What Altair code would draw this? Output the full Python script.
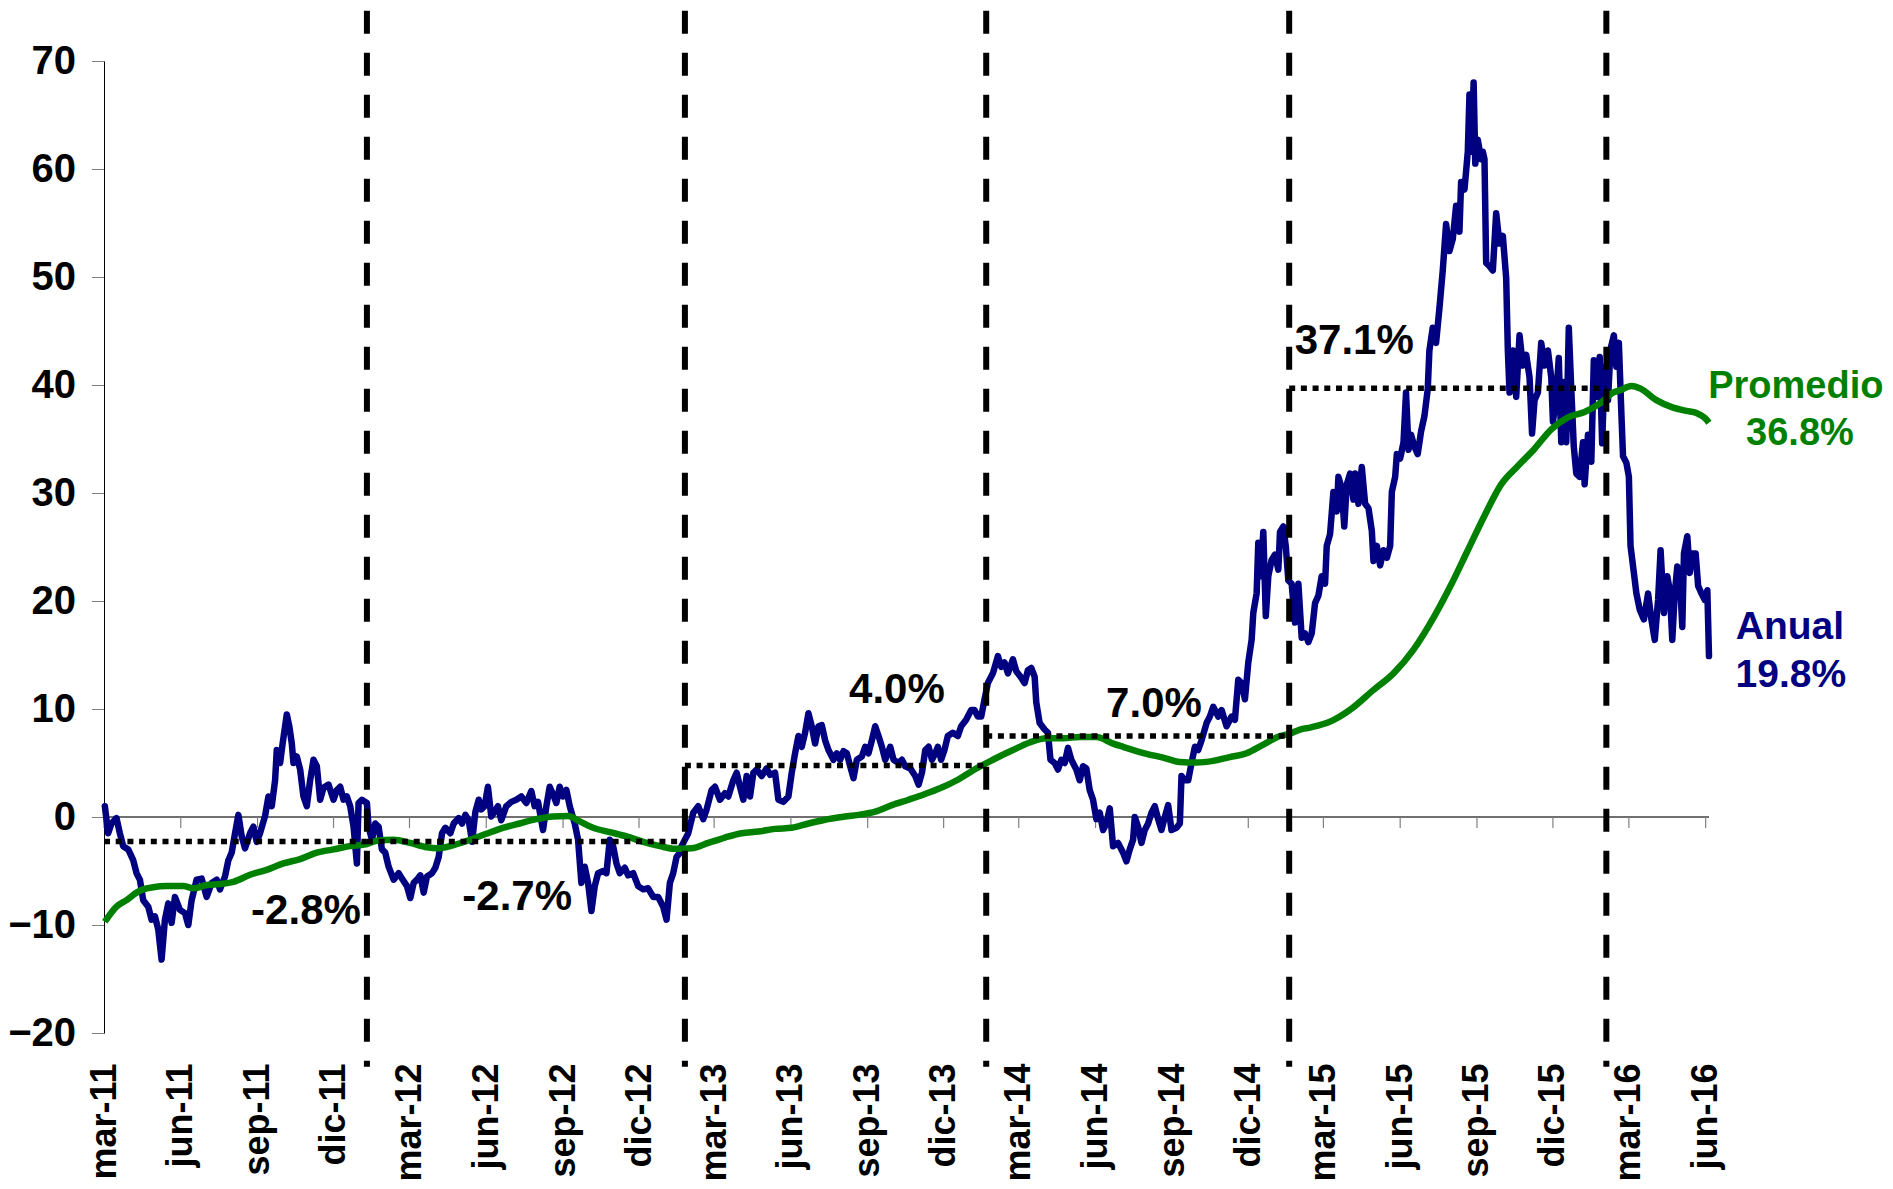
import json
import altair as alt
import pandas as pd

# ---------------- data ----------------
inicio = "2011-03-01"
fin = "2016-06-05"

# Anual (days after 2011-03-01, value)
anual_dias = [
    1, 5, 9, 15, 19, 23, 29, 35, 39, 43, 47, 53, 57, 61, 65, 69, 73, 77, 81, 85, 91, 97, 101, 105, 111, 117, 123, 129,
    135, 139, 145, 149, 153, 157, 161, 165, 169, 175, 179, 183, 187, 193, 197, 201, 205, 207, 211, 214, 219, 222, 225,
    227, 231, 235, 239, 243, 247, 251, 255, 259, 263, 269, 275, 279, 283, 287, 291, 295, 299, 303, 305, 309,
    315, 317, 321, 325, 329, 333, 337, 341, 347, 353, 357, 363, 367, 371, 375, 379, 383, 387, 393, 397, 401, 405, 409,
    415, 419, 425, 429, 433, 437, 441, 445, 449, 452, 456, 460, 464, 468, 472, 476, 482, 488, 494, 500, 506, 512, 516,
    520, 526, 530, 534, 538, 542, 546, 550, 554, 558, 564, 568, 572, 576, 580, 584, 588, 592, 598, 602, 606, 610, 614,
    618, 624, 628, 634, 640, 646, 652, 658, 664, 670, 674, 678, 682, 686, 690,
    692, 700, 706, 712, 718, 722, 728, 732, 738, 744, 748, 754, 758, 762, 766, 770, 774, 778, 782, 788, 794, 798, 804,
    808, 814, 820, 824, 828, 832, 836, 840, 844, 848, 852, 856, 860, 864, 868, 874, 878, 882, 886, 890, 894, 898, 902,
    908, 912, 916, 920, 924, 928, 932, 936, 942, 946, 952, 956, 960, 966, 972, 976, 980, 984, 988, 992, 996, 999, 1003,
    1007, 1011, 1017, 1023, 1027, 1033, 1039, 1043, 1047,
    1051, 1055, 1059, 1065, 1071, 1075, 1079, 1083, 1089, 1093, 1099, 1103, 1107, 1111, 1115, 1117, 1121, 1127, 1131,
    1134, 1139, 1143, 1147, 1151, 1155, 1159, 1165, 1169, 1173, 1177, 1181, 1185, 1189, 1193, 1197, 1201, 1205, 1209,
    1215, 1221, 1225, 1229, 1233, 1235, 1239, 1243, 1247, 1251, 1255, 1259, 1263, 1267, 1271, 1275, 1279, 1285, 1289,
    1291, 1295, 1299, 1303, 1307, 1311, 1315, 1321, 1325, 1329, 1335, 1339, 1345, 1351, 1355, 1359, 1363, 1367, 1371,
    1375, 1377, 1381, 1383, 1386, 1389, 1392, 1395, 1399, 1403, 1407, 1409, 1413, 1416,
    1419, 1423, 1427, 1431, 1435, 1439, 1443, 1447, 1451, 1455, 1459, 1463, 1465, 1469, 1473, 1477, 1479, 1483, 1486,
    1489, 1493, 1497, 1499, 1503, 1507, 1511, 1515, 1519, 1521, 1525, 1529, 1533, 1537, 1541, 1543, 1547, 1549, 1553,
    1557, 1560, 1563, 1566, 1570, 1574, 1578, 1582, 1586, 1588, 1592, 1596, 1600, 1604, 1608, 1612, 1616, 1620, 1624,
    1626, 1630, 1632, 1634, 1636, 1638, 1641, 1643, 1646, 1650, 1652, 1654, 1656, 1660, 1664, 1668, 1672, 1676, 1680,
    1682, 1684, 1688, 1692, 1696, 1700, 1704, 1708, 1711, 1714, 1718, 1722, 1726, 1730, 1734, 1736, 1740, 1743, 1746,
    1750, 1752, 1755, 1758, 1761, 1764, 1768, 1772, 1774, 1778, 1782,
    1785, 1788, 1792, 1795, 1798, 1802, 1805, 1809, 1812, 1815, 1818, 1820, 1824, 1827, 1829, 1833, 1836, 1840, 1845,
    1850, 1854, 1858, 1862, 1865, 1869, 1873, 1876, 1879, 1882, 1885, 1888, 1891, 1893, 1897, 1900, 1903, 1907, 1910,
    1914, 1918, 1921, 1923,
]
anual_valores = [
    1.0, -1.5, -0.6, -0.1, -1.5, -2.7, -3.0, -4.0, -5.2, -5.8, -7.7, -8.3, -9.5, -9.2, -10.4, -13.2, -9.5, -8.0, -9.8,
    -7.4, -8.6, -8.9, -10.0, -7.7, -5.8, -5.7, -7.4, -6.1, -5.8, -6.7, -5.5, -4.0, -3.3, -1.5, 0.2, -1.8, -2.9, -1.5,
    -0.9, -2.3, -1.5, 0.1, 1.9, 1.0, 3.4, 6.2, 5.0, 6.8, 9.5, 8.4, 6.8, 5.0, 5.6, 4.4, 1.9, 1.0, 3.4, 5.3, 4.7, 1.6,
    2.7, 3.0, 1.6, 2.5, 2.8, 1.6, 1.9, 1.0, -0.9, -4.3, 1.3, 1.6,
    1.3, -0.9, -2.1, -0.6, -0.9, -3.0, -3.3, -4.6, -5.8, -5.2, -5.7, -6.4, -7.5, -6.1, -5.8, -5.4, -7.0, -5.5, -5.2,
    -4.7, -3.7, -1.5, -1.0, -1.5, -0.6, -0.1, -0.6, 0.2, -0.3, -2.3, 0.5, 1.6, 0.7, 1.0, 2.8, 0.05, 0.5, 1.0, -0.3,
    1.0, 1.4, 1.6, 1.9, 1.3, 2.4, 1.0, 1.4, -1.2, 1.0, 2.8, 2.1, 1.3, 2.8, 1.9, 2.5, 1.0, -0.6, -2.1, -6.1, -4.6, -6.1,
    -8.7, -6.4, -5.2, -5.0, -5.2, -2.1, -2.7, -4.3, -5.2, -4.7, -5.4, -5.2, -6.4, -6.7, -6.6, -7.4, -7.4, -8.3, -9.5,
    -6.1, -5.2, -3.7, -3.3,
    -2.7, -1.5, 0.4, 1.0, -0.2, 0.7, 2.5, 2.8, 1.6, 2.2, 1.9, 3.4, 4.1, 2.8, 1.6, 3.8, 1.9, 4.1, 4.4, 3.8, 4.5, 3.9,
    4.1, 1.6, 1.4, 1.9, 4.1, 5.9, 7.5, 6.5, 7.8, 9.6, 8.4, 6.8, 8.4, 8.5, 7.1, 6.2, 5.3, 5.9, 5.3, 6.1, 5.9, 4.7, 3.6,
    5.3, 5.6, 6.5, 5.9, 7.1, 8.4, 7.5, 6.5, 5.3, 6.5, 5.3, 5.0, 5.3, 4.7, 4.5, 3.8, 3.0, 4.1, 6.2, 6.5, 5.3, 5.9, 6.5,
    5.3, 6.2, 7.5, 7.8, 7.5, 8.4, 9.0, 9.9, 9.9, 9.3,
    9.3, 10.9, 12.4, 13.3, 14.9, 13.9, 14.3, 13.3, 14.6, 13.5, 12.9, 12.4, 13.6, 13.8, 13.0, 10.6, 8.7, 8.1, 7.8, 5.3,
    5.0, 4.4, 5.3, 5.0, 6.4, 5.3, 4.4, 3.4, 4.7, 4.5, 2.5, 1.6, -0.2, 0.4, -1.2, -0.6, 0.8, -2.7, -2.4, -3.3, -4.1,
    -3.0, -2.1, 0.0, -0.9, -2.4, -1.2, -0.6, 0.4, 1.0, -0.2, -1.2, 0.0, 1.1, -1.2, -1.0, -0.6, 3.8, 3.4, 3.4, 5.0, 6.5,
    6.2, 7.1, 8.7, 9.3, 10.2, 9.3, 9.9, 8.4, 9.3, 9.0, 12.7, 12.4, 10.9, 14.3, 16.4, 18.9, 20.7, 25.4, 22.3, 26.4, 18.6,
    22.3, 23.8, 24.3, 22.9, 26.4, 26.9, 25.0,
    21.9, 21.6, 18.0, 21.6, 16.6, 17.0, 16.2, 17.0, 19.8, 20.5, 22.3, 21.6, 25.1, 26.2, 30.1, 28.3, 31.5, 30.4, 26.9,
    30.8, 31.8, 29.4, 31.8, 29.0, 32.4, 29.0, 28.6, 26.5, 23.7, 25.1, 23.3, 24.7, 24.0, 25.1, 30.1, 31.5, 33.6, 33.2,
    34.7, 39.3, 34.0, 35.4, 34.3, 33.6, 35.7, 37.1, 39.6, 43.2, 45.3, 43.9, 47.1, 50.6, 54.9, 52.4, 53.5, 56.6, 54.2,
    58.8, 58.1, 59.8, 61.6, 66.9, 61.6, 68.0, 60.5, 62.7, 60.9, 61.6, 60.9, 51.3, 51.0, 50.6, 55.9, 53.1, 53.8, 49.9,
    43.2, 39.3, 43.2, 38.9, 44.6, 41.8, 42.8, 40.7, 35.5, 38.6, 39.3, 43.9, 41.8, 43.2, 40.7, 36.6, 38.9, 42.5, 34.7,
    40.3, 34.7, 45.3, 39.6, 34.3, 31.8, 31.5, 34.7, 30.8, 35.4, 32.9,
    42.3, 38.9, 42.6, 34.6, 41.7, 38.6, 43.3, 44.6, 41.7, 43.9, 37.4, 33.4, 32.8, 31.5, 25.1, 22.6, 20.7, 19.2, 18.3,
    20.7, 18.3, 16.4, 20.1, 24.7, 18.9, 22.3, 21.0, 16.4, 20.7, 23.2, 22.3, 17.6, 24.4, 26.0, 22.6, 24.4, 24.4, 21.4,
    20.7, 20.1, 21.0, 14.9,
]

# Promedio (days after 2011-03-01, value)
prom_dias = [
    1, 15, 27, 39, 47, 59, 75, 95, 107, 123, 139, 155, 175, 195, 215, 235, 255, 275, 295, 315, 327, 347, 367, 387, 399,
    419, 439, 458, 478, 498, 518, 538, 556, 570, 586, 606, 626, 646, 666, 684, 704, 724, 744, 764, 784, 804, 824, 844,
    864, 884, 904, 924, 944, 964, 983, 1003, 1023, 1043, 1065, 1089, 1109, 1129, 1149, 1169, 1189, 1209, 1221, 1249,
    1269, 1289, 1309, 1329, 1349, 1369, 1389, 1409, 1420, 1433, 1446, 1471, 1496, 1520, 1545, 1569, 1594, 1614, 1634,
    1654, 1674, 1694, 1714, 1734, 1754, 1774, 1794, 1808, 1816, 1830, 1840, 1860, 1880, 1896, 1908, 1920, 1923,
]
prom_valores = [
    -9.7, -8.3, -7.7, -7.0, -6.7, -6.5, -6.4, -6.4, -6.6, -6.3, -6.2, -6.0, -5.35, -4.9, -4.3, -3.9, -3.3, -3.0, -2.7,
    -2.5, -2.2, -2.1, -2.4, -2.8, -2.9, -2.6, -2.1, -1.55, -1.0, -0.6, -0.2, 0.05, 0.1, -0.4, -1.0, -1.4, -1.8, -2.3,
    -2.7, -2.95, -2.9, -2.4, -1.9, -1.5, -1.35, -1.1, -1.0, -0.6, -0.25, 0.0, 0.2, 0.5, 1.1, 1.6, 2.1, 2.7, 3.45, 4.4,
    5.3, 6.2, 6.9, 7.3, 7.3, 7.4, 7.4, 6.8, 6.5, 5.85, 5.5, 5.1, 5.05, 5.2, 5.55, 5.9, 6.7, 7.5, 7.7, 8.1, 8.3, 8.9,
    10.1, 11.7, 13.3, 15.5, 18.6, 21.5, 24.7, 27.9, 30.8, 32.5, 34.1, 35.9, 37.0, 37.5, 38.4, 39.3, 39.5, 39.9, 39.7,
    38.6, 37.9, 37.6, 37.4, 36.8, 36.5,
]

# x-axis ticks
tick_fechas = [
    "2011-03-01", "2011-06-01", "2011-09-01", "2011-12-01", "2012-03-01", "2012-06-01", "2012-09-01", "2012-12-01",
    "2013-03-01", "2013-06-01", "2013-09-01", "2013-12-01", "2014-03-01", "2014-06-01", "2014-09-01", "2014-12-01",
    "2015-03-01", "2015-06-01", "2015-09-01", "2015-12-01", "2016-03-01", "2016-06-01",
]
tick_etiquetas = [
    "mar-11", "jun-11", "sep-11", "dic-11", "mar-12", "jun-12", "sep-12", "dic-12",
    "mar-13", "jun-13", "sep-13", "dic-13", "mar-14", "jun-14", "sep-14", "dic-14",
    "mar-15", "jun-15", "sep-15", "dic-15", "mar-16", "jun-16",
]
y_ticks = [-20, -10, 0, 10, 20, 30, 40, 50, 60, 70]

# period breaks (vertical dashed lines) and period averages (dotted)
cortes_dias = [315, 696, 1057, 1420, 1800]
tramo_ini = [0, 315, 696, 1057, 1420]
tramo_fin = [315, 696, 1057, 1420, 1800]
tramo_nivel = [-2.27, -2.27, 4.78, 7.5, 39.7]
corte_arriba, corte_abajo = 74.66, -23.13

# annotations
notas_texto = ["-2.8%", "-2.7%", "4.0%", "7.0%", "37.1%"]
notas_dia = [242, 495, 950, 1258, 1498]
notas_valor = [-9.95, -8.6, 10.6, 9.25, 42.9]
prom_texto = ["Promedio", "36.8%"]
prom_txt_dia = [2027, 2032]
prom_txt_valor = [38.8, 34.45]
anual_texto = ["Anual", "19.8%"]
anual_txt_dia = [2020, 2021]
anual_txt_valor = [16.5, 12.05]

# ---------------- build tables ----------------
DAY = 86400000
t0 = int(pd.Timestamp(inicio).value // 10**6)
t_end = int(pd.Timestamp(fin).value // 10**6)


def ms(d):
    return t0 + int(round(d * DAY))


df_anual = pd.DataFrame({"t": [ms(d) for d in anual_dias], "v": anual_valores})
df_prom = pd.DataFrame({"t": [ms(d) for d in prom_dias], "v": prom_valores})
tick_ms = [int(pd.Timestamp(f).value // 10**6) for f in tick_fechas]
df_ticks = pd.DataFrame({"t": tick_ms, "v": [0] * len(tick_ms), "v2": [-1.02] * len(tick_ms)})
df_zero = pd.DataFrame({"t": [t0], "t2": [t_end], "v": [0]})
df_cortes = pd.DataFrame({"t": [ms(d) for d in cortes_dias],
                          "v": [corte_arriba] * len(cortes_dias), "v2": [corte_abajo] * len(cortes_dias)})
df_tramos = pd.DataFrame({"t": [ms(d) for d in tramo_ini], "t2": [ms(d) for d in tramo_fin], "v": tramo_nivel})
df_notas = pd.DataFrame({"t": [ms(d) for d in notas_dia], "v": notas_valor, "txt": notas_texto})
df_prom_txt = pd.DataFrame({"t": [ms(d) for d in prom_txt_dia], "v": prom_txt_valor, "txt": prom_texto})
df_anual_txt = pd.DataFrame({"t": [ms(d) for d in anual_txt_dia], "v": anual_txt_valor, "txt": anual_texto})

FONT = "Liberation Sans"
NAVY = "#000080"
GREEN = "#008000"

xscale = alt.Scale(type="utc", domain=[t0, t_end], nice=False)
yscale = alt.Scale(domain=[-20, 70], nice=False, zero=False)

label_expr = "%s[indexof(%s, time(datum.value))]" % (json.dumps(tick_etiquetas), json.dumps(tick_ms))

x_axis = alt.Axis(values=tick_ms, labelExpr=label_expr, labelAngle=270, labelFontSize=36,
                  labelFontWeight="bold", labelFont=FONT, labelColor="black", labelPadding=30,
                  ticks=False, tickSize=0, domain=False, grid=False, title=None,
                  labelOverlap=False, labelFlush=False, labelBound=False)
y_axis = alt.Axis(values=y_ticks, labelFontSize=40, labelFontWeight="bold", labelFont=FONT,
                  labelColor="black", labelPadding=16, tickSize=12.5, tickColor="#808080", tickWidth=1,
                  domainColor="#000000", domainWidth=1, grid=False, title=None,
                  labelOverlap=False, labelFlush=False, labelBound=False)

X = alt.X("t:T", scale=xscale, axis=x_axis)
Y = alt.Y("v:Q", scale=yscale, axis=y_axis)

zero = alt.Chart(df_zero).mark_rule(color="#404040", strokeWidth=1.3).encode(x=X, x2="t2:T", y=Y)

ticks = alt.Chart(df_ticks).mark_rule(color="#808080", strokeWidth=1.2).encode(x=X, y=Y, y2="v2:Q")

anual = alt.Chart(df_anual).mark_line(color=NAVY, strokeWidth=6.5, strokeJoin="round",
                                      strokeCap="round").encode(x=X, y=Y)

prom = alt.Chart(df_prom).mark_line(color=GREEN, strokeWidth=6.5, strokeJoin="round", strokeCap="butt",
                                    interpolate="monotone").encode(x=X, y=Y)

tramos = alt.Chart(df_tramos).mark_rule(color="black", strokeWidth=5.5, strokeDash=[6, 5.7]).encode(
    x=X, x2="t2:T", y=Y)

cortes = alt.Chart(df_cortes).mark_rule(color="black", strokeWidth=6, strokeDash=[23, 19]).encode(
    x=X, y=Y, y2="v2:Q")


def textos(df, color, size):
    return alt.Chart(df).mark_text(align="center", baseline="alphabetic", font=FONT, fontWeight="bold",
                                   fontSize=size, color=color).encode(x=X, y=Y, text="txt:N")


chart = alt.layer(
    zero, ticks, anual, prom, tramos, cortes,
    textos(df_notas, "black", 42), textos(df_prom_txt, GREEN, 38), textos(df_anual_txt, NAVY, 39),
).properties(
    width=1605, height=972,
    padding={"left": 96, "top": 53, "right": 176, "bottom": 148},
    autosize=alt.AutoSizeParams(type="none"),
).configure(font=FONT).configure_view(stroke=None)

chart.save("out.html", embed_options={"renderer": "svg", "actions": False})
